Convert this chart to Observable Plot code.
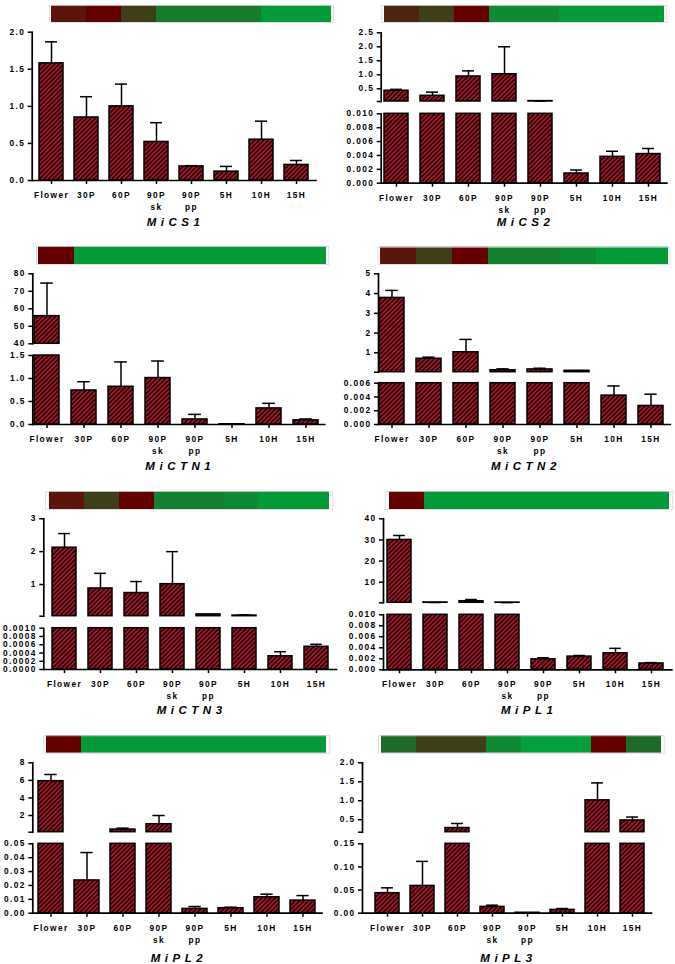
<!DOCTYPE html>
<html><head><meta charset="utf-8">
<script src="https://cdn.jsdelivr.net/npm/d3@7"></script>
<script src="https://cdn.jsdelivr.net/npm/@observablehq/plot@0.6"></script>
<style>
body{margin:0;background:#fff;}
#chart{position:relative;width:675px;height:964px;overflow:hidden;background:#fff;}
.title{position:absolute;font:italic bold 11.5px "Liberation Sans",Arial,sans-serif;letter-spacing:4.5px;transform:translate(-50%,-50%);white-space:nowrap;color:#000;}
</style></head><body>
<svg width="0" height="0" style="position:absolute"><defs>
<pattern id="hatch" patternUnits="userSpaceOnUse" width="3.2" height="3.2" patternTransform="rotate(45)">
<rect width="3.2" height="3.2" fill="#a3172a"/><line x1="0.8" y1="0" x2="0.8" y2="3.2" stroke="#2a0306" stroke-width="1.6"/>
</pattern></defs></svg>
<div id="chart"></div>
<script>
// ---------- data ----------
const categories = ["Flower","30P","60P","90P\nsk","90P\npp","5H","10H","15H"];
const genes = ["MiCS1","MiCS2","MiCTN1","MiCTN2","MiCTN3","MiPL1","MiPL2","MiPL3"];

const meanMiCS1  = [1.58, 0.85, 1.00, 0.52, 0.19, 0.12, 0.55, 0.21];
const sdMiCS1    = [0.29, 0.28, 0.30, 0.26, 0.01, 0.07, 0.25, 0.06];
const meanMiCS2  = [0.43, 0.25, 0.94, 1.02, 0.06, 0.0014, 0.0038, 0.0042];
const sdMiCS2    = [0.05, 0.13, 0.20, 0.98, 0.0, 0.0005, 0.0008, 0.0008];
const meanMiCTN1 = [55.8, 0.74, 0.82, 1.01, 0.11, 0.005, 0.35, 0.09];
const sdMiCTN1   = [18.9, 0.19, 0.54, 0.37, 0.11, 0.0, 0.11, 0.03];
const meanMiCTN2 = [3.78, 0.70, 1.03, 0.12, 0.16, 0.09, 0.0042, 0.0027];
const sdMiCTN2   = [0.38, 0.08, 0.65, 0.07, 0.06, 0.01, 0.0014, 0.0017];
const meanMiCTN3 = [2.12, 0.88, 0.74, 1.01, 0.09, 0.055, 0.00032, 0.00055];
const sdMiCTN3   = [0.43, 0.46, 0.35, 0.99, 0.0, 0.02, 0.00011, 0.00006];
const meanMiPL1  = [30.0, 0.4, 1.0, 0.35, 0.0019, 0.0024, 0.0030, 0.00115];
const sdMiPL1    = [2.1, 0.0, 0.8, 0.0, 0.0003, 0.0002, 0.0009, 0.00015];
const meanMiPL2  = [5.91, 0.0236, 0.40, 1.01, 0.0031, 0.0036, 0.0115, 0.0091];
const sdMiPL2    = [0.76, 0.0201, 0.16, 0.99, 0.0017, 0.0007, 0.0022, 0.0036];
const meanMiPL3  = [0.0433, 0.059, 0.28, 0.0137, 0.001, 0.0072, 1.01, 0.48];
const sdMiPL3    = [0.0115, 0.053, 0.12, 0.0036, 0.0, 0.0029, 0.46, 0.09];

const means = [meanMiCS1, meanMiCS2, meanMiCTN1, meanMiCTN2, meanMiCTN3, meanMiPL1, meanMiPL2, meanMiPL3];
const sds   = [sdMiCS1, sdMiCS2, sdMiCTN1, sdMiCTN2, sdMiCTN3, sdMiPL1, sdMiPL2, sdMiPL3];

// heat-map strip colours
const R1="#5c150c", R0="#650000", OL="#3e3e18", G1="#187a2d", G2="#0d8a33", G3="#049a38", DG="#1f6a28";
const stripMiCS1  = [R1, R0, OL, G1, G1, G1, G3, G3];
const stripMiCS2  = ["#4e2410", OL, R0, G2, G2, G3, G3, G3];
const stripMiCTN1 = [R0, G3, G3, G3, G3, G3, G3, G3];
const stripMiCTN2 = [R1, OL, R0, "#138030", "#138030", G2, G3, G3];
const stripMiCTN3 = [R1, OL, R0, "#148030", "#148030", G2, G3, G3];
const stripMiPL1  = [R0, G3, G3, G3, G3, G3, G3, G3];
const stripMiPL2  = [R0, G3, G3, G3, G3, G3, G3, G3];
const stripMiPL3  = [DG, OL, OL, G2, "#03a03c", "#03a03c", R0, DG];
const strips = [stripMiCS1, stripMiCS2, stripMiCTN1, stripMiCTN2, stripMiCTN3, stripMiPL1, stripMiPL2, stripMiPL3];

// axis domains and ticks (broken axes: upper / lower segment)
const upperDomains = [null, [0.046, 2.5], [40, 80], [0.02, 5], [0.035, 3], [0.25, 40], [0.1, 8], [0.17, 2]];
const upperTicks   = [null, [0.5, 1, 1.5, 2, 2.5], [40, 50, 60, 70, 80], [1, 2, 3, 4, 5], [1, 2, 3], [10, 20, 30, 40], [2, 4, 6, 8], [0.5, 1, 1.5, 2]];
const upperFmt     = [null, ".1f", "d", "d", "d", "d", "d", ".1f"];
const lowerDomains = [[0, 2], [0, 0.01], [0, 1.5], [0, 0.006], [0, 0.001], [0, 0.01], [0, 0.05], [0, 0.15]];
const lowerTicks   = [[0, 0.5, 1, 1.5, 2], [0, 0.002, 0.004, 0.006, 0.008, 0.01], [0, 0.5, 1, 1.5], [0, 0.002, 0.004, 0.006],
                      [0, 0.0002, 0.0004, 0.0006, 0.0008, 0.001], [0, 0.002, 0.004, 0.006, 0.008, 0.01], [0, 0.01, 0.02, 0.03, 0.04, 0.05], [0, 0.05, 0.1, 0.15]];
const lowerFmt     = [".1f", ".3f", ".1f", ".3f", ".4f", ".3f", ".2f", ".2f"];

// ---------- layout (page pixels) ----------
const layout = [
 {axisX:31.7,  c0:48.7,  step:35.57, bw:24,   upper:null,          lower:[31.7,180],    strip:[49,333,5,22],           titleY:222},
 {axisX:380.7, c0:395.3, step:36.14, bw:24,   upper:[32.3,101],    lower:[113.3,182.7], strip:[381.3,666.3,5,22],      titleY:222},
 {axisX:32.3,  c0:45.7,  step:37.14, bw:24.7, upper:[273.3,343.3], lower:[355,424],     strip:[36,328.3,246,264],      titleY:466},
 {axisX:378,   c0:391.3, step:37.14, bw:25.3, upper:[273.3,371.7], lower:[382.7,424],   strip:[377.3,669.7,246.7,264], titleY:466},
 {axisX:43.3,  c0:61.7,  step:36.57, bw:24.7, upper:[518.3,615.7], lower:[627.7,669],   strip:[45,332.3,491,509],      titleY:710},
 {axisX:383,   c0:396.3, step:36.67, bw:24.7, upper:[518.3,602.3], lower:[614.3,669.3], strip:[384.7,672.3,491,509],   titleY:710},
 {axisX:32.3,  c0:49.3,  step:36.29, bw:25.3, upper:[762.3,831.7], lower:[843.3,912.7], strip:[43.3,329.3,735.3,752.7], titleY:957.7},
 {axisX:362,   c0:386.7, step:35.24, bw:24.3, upper:[762.3,831.7], lower:[843.3,912.7], strip:[378,663.7,735.3,752.7],  titleY:957.7}
];

const W = 675, H = 964;
const svgStyle = "position:absolute;left:0;top:0;background:transparent;overflow:visible;color:#000;" +
  "font-family:'Liberation Sans',Arial,sans-serif;font-size:8.3px;font-weight:bold;letter-spacing:1.4px;";
const chart = document.getElementById("chart");

function segment(g, isLower) {
  const L = layout[g];
  const hasUpper = !!upperDomains[g];
  const [top, bottom] = isLower ? L.lower : L.upper;
  const domain = isLower ? lowerDomains[g] : upperDomains[g];
  const ticks = isLower ? lowerTicks[g] : upperTicks[g];
  const fmt = d3.format(isLower ? lowerFmt[g] : upperFmt[g]);
  const x0 = L.c0 - L.step / 2, x1 = x0 + 8 * L.step;
  const pi = 1 - L.bw / L.step;
  const lowerMax = lowerDomains[g][1];
  const rows = categories.map((c, i) => ({cat: c, v: means[g][i], e: sds[g][i]}));
  const bars = isLower ? rows : rows.filter(d => d.v > lowerMax);
  const errs = isLower ? (hasUpper ? rows.filter(d => d.v <= lowerMax) : rows) : rows.filter(d => d.v > lowerMax);
  const allTicks = ticks.includes(domain[0]) ? ticks : [domain[0], ...ticks];
  const marks = [
    Plot.ruleX(errs, {x: "cat", y1: "v", y2: d => d.v + d.e, stroke: "#000", strokeWidth: 1.5}),
    Plot.tickY(errs, {x: "cat", y: d => d.v + d.e, insetLeft: L.bw / 4, insetRight: L.bw / 4, stroke: "#000", strokeWidth: 1.5}),
    Plot.barY(bars, {x: "cat", y: "v", fill: "url(#hatch)", stroke: "#000", strokeWidth: 1.5}),
    Plot.axisY({ticks: allTicks, tickFormat: d => ticks.includes(d) ? fmt(d) : "", tickSize: 4, tickPadding: 3, strokeWidth: 1.5, label: null}),
    Plot.frame({anchor: "left", stroke: "#000", strokeWidth: 1.7})
  ];
  if (isLower) {
    marks.push(Plot.axisX({tickSize: 4, tickPadding: 5, lineHeight: 1.45, strokeWidth: 1.5, label: null}));
    marks.push(Plot.frame({anchor: "bottom", stroke: "#000", strokeWidth: 1.7}));
  }
  const svg = Plot.plot({
    width: W, height: H,
    marginLeft: L.axisX, marginRight: W - x1, marginTop: top, marginBottom: H - bottom,
    x: {type: "band", domain: categories, range: [x0, x1], paddingInner: pi, paddingOuter: pi / 2, axis: isLower ? undefined : null, label: null},
    y: {domain, clamp: true, label: null},
    style: svgStyle,
    marks
  });
  chart.appendChild(svg);
}

function strip(g) {
  const [sx0, sx1, sy0, sy1] = layout[g].strip;
  const svg = Plot.plot({
    width: W, height: H,
    marginLeft: sx0, marginRight: W - sx1, marginTop: sy0, marginBottom: H - sy1,
    x: {type: "band", domain: d3.range(8), padding: 0, axis: null, label: null},
    color: {type: "identity"},
    style: svgStyle,
    marks: [
      Plot.cell(strips[g], {x: (d, i) => i, fill: d => d, inset: 0}),
      Plot.frame({stroke: "#d8d8d8", strokeWidth: 0.8})
    ]
  });
  chart.appendChild(svg);
}

genes.forEach((name, g) => {
  strip(g);
  if (upperDomains[g]) segment(g, false);
  segment(g, true);
  const L = layout[g];
  const x1 = L.c0 - L.step / 2 + 8 * L.step;
  const t = document.createElement("div");
  t.className = "title";
  t.textContent = name;
  t.style.left = ((L.axisX + x1) / 2 + 2) + "px";
  t.style.top = L.titleY + "px";
  chart.appendChild(t);
});
</script>
</body></html>
